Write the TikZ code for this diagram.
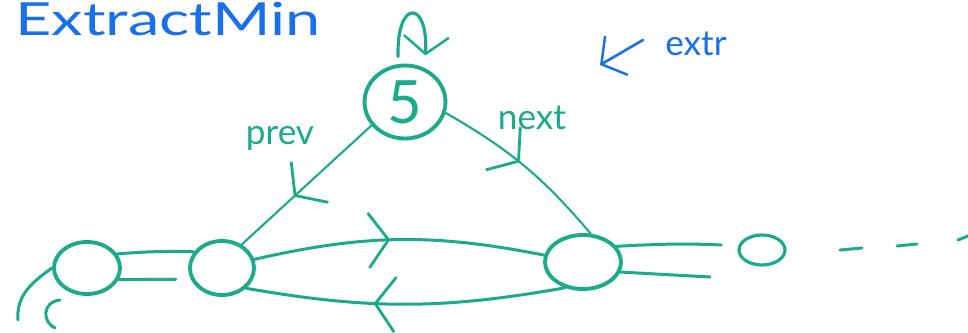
\documentclass[tikz,border=0pt]{standalone}
\usepackage{fontspec}
\setmainfont{Lato}
\usepackage{xcolor}
\usepackage{tikz}
\usetikzlibrary{positioning, shapes, arrows.meta, decorations.markings}

\definecolor{listgreen}{RGB}{27,170,138}
\definecolor{penblue}{RGB}{26,111,235}

\tikzset{
	listnode/.style={ellipse, draw, color=listgreen, line width=2.2pt, inner sep=0pt},
	link/.style={draw, color=listgreen, line width=1.7pt, line cap=round},
	ptr/.style={draw, color=listgreen, line width=1.2pt, line cap=round},
	barb/.style={-{Straight Barb[length=3.5mm, width=9mm, line width=1.4pt]}},
	midarrow/.style={postaction={decorate}, decoration={markings,
		mark=at position #1 with {\arrow{Straight Barb[length=4mm, width=11mm, line width=1.6pt]}}}},
}

\begin{document}
\begin{tikzpicture}[x=0.02cm, y=0.02cm]
	\useasboundingbox (0, 0) rectangle (968, 332);
	% Title and the extr pointer:
	\node[text=penblue, font=\fontsize{26}{30}\selectfont] (title) at (168, 313){\scalebox{1.38}[1]{ExtractMin}};
	\node[text=penblue, font=\fontsize{20}{24}\selectfont] (extr) at (696, 288){extr};
	\coordinate (extrtail) at (643, 292);
	\coordinate (extrhead) at (600, 267);
	\draw[penblue, line width=1.5pt, line cap=round, barb] (extrtail) -- (extrhead);
	% Nodes:
	\node[listnode, minimum width=1.62cm, minimum height=1.46cm, font=\fontsize{34}{34}\selectfont] (n5) at (405, 230){5};
	\node[listnode, minimum width=1.32cm, minimum height=1.04cm] (A) at (87, 64){};
	\node[listnode, minimum width=1.28cm, minimum height=1.08cm] (B) at (222, 64){};
	\node[listnode, minimum width=1.52cm, minimum height=1.08cm] (C) at (583, 70){};
	\node[listnode, line width=1.8pt, minimum width=0.92cm, minimum height=0.6cm] (D) at (762, 82){};
	% Pointers of the extracted node:
	\draw[ptr, line width=1.8pt, barb, shorten <=1.5mm, shorten >=2.5mm] (n5.100) .. controls +(-2, 66) and +(4, 68) .. (n5.60);
	\draw[ptr, midarrow=0.6] (n5.215) -- (B.50);
	\draw[ptr, midarrow=0.47] (n5.-15) to[bend left=10] (C.75);
	\node[text=listgreen, font=\fontsize{20}{24}\selectfont] (prev) at (280, 194){prev};
	\node[text=listgreen, font=\fontsize{20}{24}\selectfont] (next) at (532, 214){next};
	% Links between the nodes:
	\draw[link] (A.25) to[bend left=3] (B.150);
	\draw[link, shorten >=3mm] (A.-20) -- (B.200);
	\draw[link, midarrow=0.47] (B.15) to[bend left=12] (C.170);
	\draw[link, midarrow=0.6] (C.-125) to[bend left=10] (B.-40);
	\draw[link, shorten >=3.4mm] (C.25) to[bend left=3] (D.170);
	\coordinate (cdend) at (710, 55);
	\draw[link] (C.-15) -- (cdend);
	% Loose ends on the left and the dashes on the right:
	\coordinate (leftend) at (18, 12);
	\draw[link] (A.180) to[out=215, in=95] (leftend);
	\draw[link] (60, 32) .. controls (42, 30) and (42, 10) .. (55, 4);
	\draw[link] (840, 82) -- (862, 84);
	\draw[link] (897, 86) -- (917, 88);
	\draw[link] (958, 92) -- (968, 96);
\end{tikzpicture}
\end{document}
